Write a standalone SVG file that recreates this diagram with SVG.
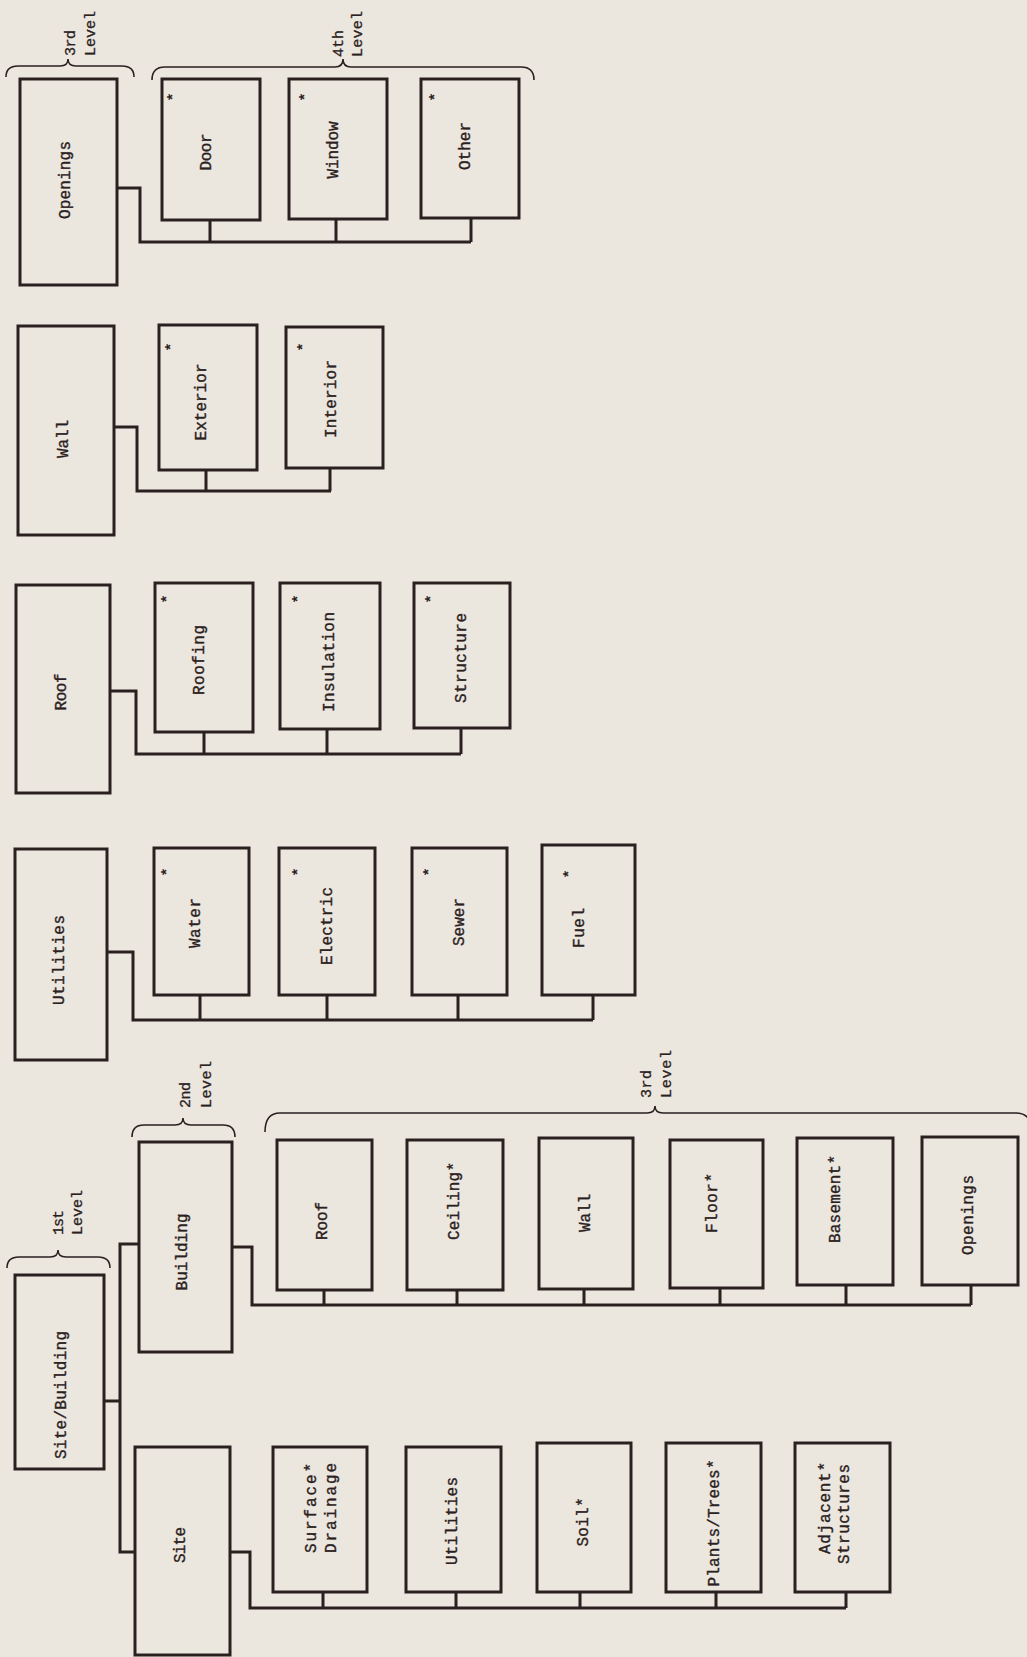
<svg xmlns="http://www.w3.org/2000/svg" width="1027" height="1657" viewBox="0 0 1027 1657">
<style>
.bg{fill:#ebe7df}
.box{fill:none;stroke:#2a2020;stroke-width:3;stroke-linejoin:miter}
.con{fill:none;stroke:#2a2020;stroke-width:3;stroke-linejoin:miter}
.br{fill:none;stroke:#2a2020;stroke-width:1.6}
.t{font-family:"Liberation Mono","DejaVu Sans Mono",monospace;font-size:16px;fill:#2a2020;stroke:#2a2020;stroke-width:0.35;text-anchor:middle;dominant-baseline:central}
.lv{font-family:"Liberation Mono","DejaVu Sans Mono",monospace;font-size:15px;fill:#2a2020;stroke:#2a2020;stroke-width:0.3;text-anchor:start}
.ast{font-family:"Liberation Mono","DejaVu Sans Mono",monospace;font-size:15px;font-weight:bold;fill:#2a2020;text-anchor:middle}
</style>
<rect class="bg" x="0" y="0" width="1027" height="1657"/>

<g id="braces">
<path class="br" d="M6,77 Q6,66 18,66 L60,66 Q68,66 68,59 Q68,66 76,66 L122,66 Q134,66 134,77"/>
<path class="br" d="M152,80 Q152,67 165,67 L335,67 Q343,67 343,59 Q343,67 351,67 L521,67 Q534,67 534,80"/>
<path class="br" d="M7,1268 Q7,1257 19,1257 L50,1257 Q58,1257 58,1250 Q58,1257 66,1257 L98,1257 Q110,1257 110,1268"/>
<path class="br" d="M132,1137 Q132,1125 144,1125 L175,1125 Q183,1125 183,1118 Q183,1125 191,1125 L223,1125 Q235,1125 235,1137"/>
<path class="br" d="M265,1132 Q265,1113 280,1113 L647,1113 Q655,1113 655,1106 Q655,1113 663,1113 L1016,1113 Q1024,1113 1028,1118"/>
</g>

<g id="level-labels">
<text class="lv" transform="translate(75,56) rotate(-90)" textLength="26">3rd</text>
<text class="lv" transform="translate(95,56) rotate(-90)" textLength="45">Level</text>
<text class="lv" transform="translate(343,57) rotate(-90)" textLength="27">4th</text>
<text class="lv" transform="translate(362,57) rotate(-90)" textLength="46">Level</text>
<text class="lv" transform="translate(63,1235) rotate(-90)" textLength="25">1st</text>
<text class="lv" transform="translate(82,1235) rotate(-90)" textLength="45">Level</text>
<text class="lv" transform="translate(190,1108) rotate(-90)" textLength="26">2nd</text>
<text class="lv" transform="translate(211,1108) rotate(-90)" textLength="47">Level</text>
<text class="lv" transform="translate(651,1098) rotate(-90)" textLength="28">3rd</text>
<text class="lv" transform="translate(671,1098) rotate(-90)" textLength="48">Level</text>
</g>

<g id="connectors">
<path class="con" d="M117,188 H140 V242 H471 M210,220 V242 M336,219 V242 M471,218 V242"/>
<path class="con" d="M114,427 H137 V491 H331 M206,470 V491 M330,468 V491"/>
<path class="con" d="M110,691 H136 V754 H461 M204,732 V754 M327,729 V754 M461,728 V754"/>
<path class="con" d="M107,952 H133 V1020 H593 M200,995 V1020 M327,995 V1020 M458,995 V1020 M593,995 V1020"/>
<path class="con" d="M104,1401 H120 M139,1244 H120 V1552 H135"/>
<path class="con" d="M232,1247 H252 V1305 H971 M324,1290 V1305 M457,1290 V1305 M584,1289 V1305 M720,1288 V1305 M846,1285 V1305 M971,1285 V1305"/>
<path class="con" d="M230,1552 H250 V1608 H846 M323,1592 V1608 M456,1592 V1608 M580,1592 V1608 M716,1592 V1608 M846,1592 V1608"/>
</g>

<g id="openings-top">
<rect class="box" x="20" y="79" width="97" height="206"/>
<text class="t" transform="translate(66,180) rotate(-90)" textLength="78">Openings</text>
</g>
<g id="door">
<rect class="box" x="162" y="79" width="98" height="141"/>
<text class="t" transform="translate(207,152) rotate(-90)" textLength="37">Door</text>
<text class="ast" transform="translate(178,97) rotate(-90)">*</text>
</g>
<g id="window">
<rect class="box" x="289" y="79" width="98" height="140"/>
<text class="t" transform="translate(334,150) rotate(-90)" textLength="57">Window</text>
<text class="ast" transform="translate(310,97) rotate(-90)">*</text>
</g>
<g id="other">
<rect class="box" x="421" y="79" width="98" height="139"/>
<text class="t" transform="translate(466,146) rotate(-90)" textLength="48">Other</text>
<text class="ast" transform="translate(440,97) rotate(-90)">*</text>
</g>

<g id="wall-top">
<rect class="box" x="18" y="326" width="96" height="209"/>
<text class="t" transform="translate(64,439) rotate(-90)" textLength="38">Wall</text>
</g>
<g id="exterior">
<rect class="box" x="159" y="325" width="98" height="145"/>
<text class="t" transform="translate(202,402) rotate(-90)" textLength="77">Exterior</text>
<text class="ast" transform="translate(176,347) rotate(-90)">*</text>
</g>
<g id="interior">
<rect class="box" x="286" y="327" width="97" height="141"/>
<text class="t" transform="translate(332,399) rotate(-90)" textLength="78">Interior</text>
<text class="ast" transform="translate(308,347) rotate(-90)">*</text>
</g>

<g id="roof-top">
<rect class="box" x="16" y="585" width="94" height="208"/>
<text class="t" transform="translate(62,692) rotate(-90)" textLength="37">Roof</text>
</g>
<g id="roofing">
<rect class="box" x="155" y="583" width="98" height="149"/>
<text class="t" transform="translate(200,660) rotate(-90)" textLength="70">Roofing</text>
<text class="ast" transform="translate(172,599) rotate(-90)">*</text>
</g>
<g id="insulation">
<rect class="box" x="280" y="583" width="100" height="146"/>
<text class="t" transform="translate(330,662) rotate(-90)" textLength="100">Insulation</text>
<text class="ast" transform="translate(303,599) rotate(-90)">*</text>
</g>
<g id="structure">
<rect class="box" x="414" y="583" width="96" height="145"/>
<text class="t" transform="translate(462,658) rotate(-90)" textLength="90">Structure</text>
<text class="ast" transform="translate(436,599) rotate(-90)">*</text>
</g>

<g id="utilities-top">
<rect class="box" x="15" y="849" width="92" height="211"/>
<text class="t" transform="translate(60,960) rotate(-90)" textLength="90">Utilities</text>
</g>
<g id="water">
<rect class="box" x="154" y="848" width="95" height="147"/>
<text class="t" transform="translate(196,923) rotate(-90)" textLength="50">Water</text>
<text class="ast" transform="translate(172,872) rotate(-90)">*</text>
</g>
<g id="electric">
<rect class="box" x="279" y="848" width="96" height="147"/>
<text class="t" transform="translate(328,926) rotate(-90)" textLength="78">Electric</text>
<text class="ast" transform="translate(303,872) rotate(-90)">*</text>
</g>
<g id="sewer">
<rect class="box" x="412" y="848" width="95" height="147"/>
<text class="t" transform="translate(460,922) rotate(-90)" textLength="48">Sewer</text>
<text class="ast" transform="translate(434,872) rotate(-90)">*</text>
</g>
<g id="fuel">
<rect class="box" x="542" y="845" width="93" height="150"/>
<text class="t" transform="translate(580,928) rotate(-90)" textLength="40">Fuel</text>
<text class="ast" transform="translate(574,874) rotate(-90)">*</text>
</g>

<g id="site-building">
<rect class="box" x="15" y="1275" width="89" height="194"/>
<text class="t" transform="translate(62,1395) rotate(-90)" textLength="128">Site/Building</text>
</g>
<g id="building">
<rect class="box" x="139" y="1142" width="93" height="210"/>
<text class="t" transform="translate(183,1252) rotate(-90)" textLength="77">Building</text>
</g>
<g id="site">
<rect class="box" x="135" y="1447" width="95" height="208"/>
<text class="t" transform="translate(181,1545) rotate(-90)" textLength="36">Site</text>
</g>

<g id="roof">
<rect class="box" x="277" y="1140" width="95" height="150"/>
<text class="t" transform="translate(323,1221) rotate(-90)" textLength="38">Roof</text>
</g>
<g id="ceiling">
<rect class="box" x="407" y="1140" width="96" height="150"/>
<text class="t" transform="translate(455,1201) rotate(-90)" textLength="78">Ceiling*</text>
</g>
<g id="wall">
<rect class="box" x="539" y="1138" width="94" height="151"/>
<text class="t" transform="translate(586,1213) rotate(-90)" textLength="38">Wall</text>
</g>
<g id="floor">
<rect class="box" x="670" y="1140" width="93" height="148"/>
<text class="t" transform="translate(713,1203) rotate(-90)" textLength="60">Floor*</text>
</g>
<g id="basement">
<rect class="box" x="797" y="1138" width="96" height="147"/>
<text class="t" transform="translate(836,1199) rotate(-90)" textLength="88">Basement*</text>
</g>
<g id="openings">
<rect class="box" x="922" y="1137" width="96" height="148"/>
<text class="t" transform="translate(969,1215) rotate(-90)" textLength="80">Openings</text>
</g>

<g id="surface-drainage">
<rect class="box" x="273" y="1447" width="94" height="145"/>
<text class="t" transform="translate(312,1508) rotate(-90)" textLength="90">Surface*</text>
<text class="t" transform="translate(332,1508) rotate(-90)" textLength="90">Drainage</text>
</g>
<g id="utilities">
<rect class="box" x="406" y="1447" width="95" height="145"/>
<text class="t" transform="translate(453,1521) rotate(-90)" textLength="88">Utilities</text>
</g>
<g id="soil">
<rect class="box" x="537" y="1443" width="94" height="149"/>
<text class="t" transform="translate(584,1522) rotate(-90)" textLength="49">Soil*</text>
</g>
<g id="plants-trees">
<rect class="box" x="666" y="1443" width="95" height="149"/>
<text class="t" transform="translate(715,1523) rotate(-90)" textLength="127">Plants/Trees*</text>
</g>
<g id="adjacent-structures">
<rect class="box" x="795" y="1443" width="95" height="149"/>
<text class="t" transform="translate(826,1508) rotate(-90)" textLength="92">Adjacent*</text>
<text class="t" transform="translate(845,1514) rotate(-90)" textLength="100">Structures</text>
</g>
</svg>
